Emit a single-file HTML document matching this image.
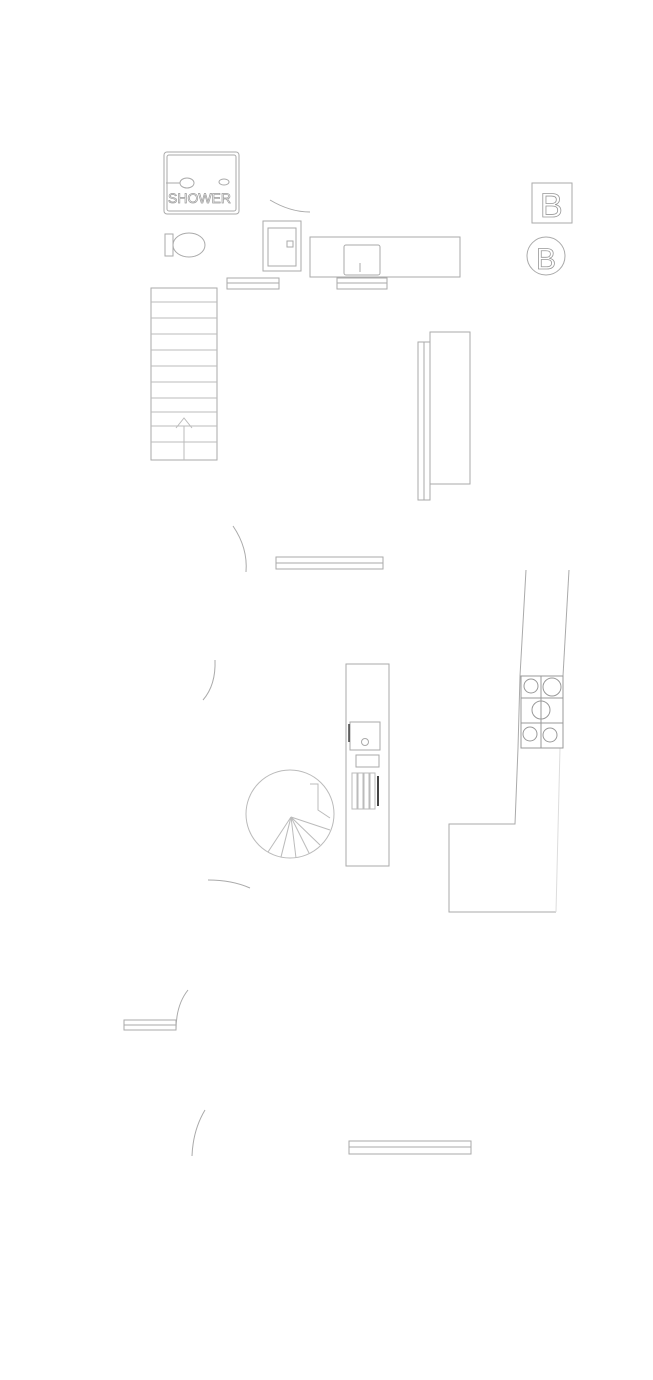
<!DOCTYPE html>
<html><head><style>html,body{margin:0;padding:0;background:#fff}svg{display:block}</style></head>
<body>
<svg width="653" height="1380" viewBox="0 0 653 1380" xmlns="http://www.w3.org/2000/svg" fill="none" stroke="#aaa" stroke-width="1" font-family="Liberation Sans, sans-serif">
<!-- shower -->
<rect x="164" y="152" width="75" height="62" rx="3"/>
<rect x="167" y="155" width="69" height="56" rx="2"/>
<line x1="166" y1="183" x2="180" y2="183"/><ellipse cx="187" cy="183" rx="7" ry="5"/>
<ellipse cx="224" cy="182" rx="5" ry="3"/>
<text x="168" y="203" font-size="14" fill="#fff" stroke="#999" stroke-width="0.7">SHOWER</text>
<!-- toilet -->
<path d="M165 234 L173 234 L173 256 L165 256 Z"/>
<ellipse cx="189" cy="245" rx="16" ry="12"/>
<!-- door arc top -->
<path d="M270 200 Q290 212 310 212"/>
<!-- basin box -->
<rect x="263" y="221" width="38" height="50"/>
<rect x="268" y="228" width="28" height="38"/>
<rect x="287" y="241" width="6" height="6"/>
<!-- counter -->
<rect x="310" y="237" width="150" height="40"/>
<rect x="344" y="245" width="36" height="30" rx="2"/>
<line x1="360" y1="263" x2="360" y2="272"/>
<!-- small double lines -->
<rect x="227" y="278" width="52" height="11"/><line x1="227" y1="283" x2="279" y2="283"/>
<rect x="337" y="278" width="50" height="11"/><line x1="337" y1="283" x2="387" y2="283"/>
<!-- B icons -->
<rect x="532" y="183" width="40" height="40"/>
<text x="540" y="217" font-size="34" fill="#fff" stroke="#999" stroke-width="0.8">B</text>
<circle cx="546" cy="256" r="19"/>
<text x="536" y="269" font-size="30" fill="#fff" stroke="#999" stroke-width="0.8">B</text>
<!-- stairs -->
<rect x="151" y="288" width="66" height="172"/>
<g stroke="#bbb">
<line x1="151" y1="302" x2="217" y2="302"/><line x1="151" y1="318" x2="217" y2="318"/>
<line x1="151" y1="334" x2="217" y2="334"/><line x1="151" y1="350" x2="217" y2="350"/>
<line x1="151" y1="366" x2="217" y2="366"/><line x1="151" y1="382" x2="217" y2="382"/>
<line x1="151" y1="398" x2="217" y2="398"/><line x1="151" y1="412" x2="217" y2="412"/>
<line x1="151" y1="426" x2="217" y2="426"/><line x1="151" y1="442" x2="217" y2="442"/>
<line x1="184" y1="426" x2="184" y2="460"/>
<path d="M176 428 L184 418 L192 428"/>
</g>
<!-- right tall counter -->
<rect x="418" y="342" width="12" height="158"/><line x1="424" y1="342" x2="424" y2="500"/>
<rect x="430" y="332" width="40" height="152"/>
<!-- arcs -->
<path d="M233 526 Q248 548 246 572"/>
<rect x="276" y="557" width="107" height="12"/><line x1="276" y1="563" x2="383" y2="563"/>
<path d="M215 660 Q216 685 203 700"/>
<path d="M208 880 Q232 880 250 888"/>
<path d="M188 990 Q176 1005 176 1030"/>
<rect x="124" y="1020" width="52" height="10"/><line x1="124" y1="1025" x2="176" y2="1025"/>
<path d="M205 1110 Q193 1130 192 1156"/>
<rect x="349" y="1141" width="122" height="13"/><line x1="349" y1="1147" x2="471" y2="1147"/>
<!-- island -->
<rect x="346" y="664" width="43" height="202"/>
<rect x="350" y="722" width="30" height="28"/>
<circle cx="365" cy="742" r="3.5"/>
<rect x="356" y="755" width="23" height="12"/>
<g stroke="#bbb"><rect x="352" y="773" width="5" height="36"/><rect x="358" y="773" width="5" height="36"/><rect x="364" y="773" width="5" height="36"/><rect x="370" y="773" width="5" height="36"/></g>
<line x1="378" y1="776" x2="378" y2="806" stroke="#444" stroke-width="2"/>
<line x1="349" y1="724" x2="349" y2="742" stroke="#444" stroke-width="1.5"/>
<!-- spiral stairs -->
<circle cx="290" cy="814" r="44" stroke="#bbb"/>
<g stroke="#bbb"><line x1="291" y1="817" x2="268" y2="852"/><line x1="291" y1="817" x2="281" y2="857"/><line x1="291" y1="817" x2="296" y2="858"/><line x1="291" y1="817" x2="309" y2="853"/><line x1="291" y1="817" x2="320" y2="845"/><line x1="291" y1="817" x2="330" y2="830"/><path d="M310 784 L318 784 L318 810 L330 818"/></g>
<!-- L kitchen -->
<path d="M526 570 L520 676 L518 748 L515 824 L449 824 L449 912 L556 912"/>
<path d="M569 570 L563 676"/>
<path d="M560 748 L556 912" stroke="#ddd"/>
<rect x="521" y="676" width="42" height="72" stroke="#999"/>
<g stroke="#999"><circle cx="531" cy="686" r="7"/><circle cx="552" cy="687" r="9"/><circle cx="541" cy="710" r="9"/><circle cx="530" cy="734" r="7"/><circle cx="550" cy="735" r="7"/><line x1="541" y1="676" x2="541" y2="748"/><line x1="521" y1="698" x2="563" y2="698"/><line x1="521" y1="723" x2="563" y2="723"/></g>
</svg>
</body></html>
